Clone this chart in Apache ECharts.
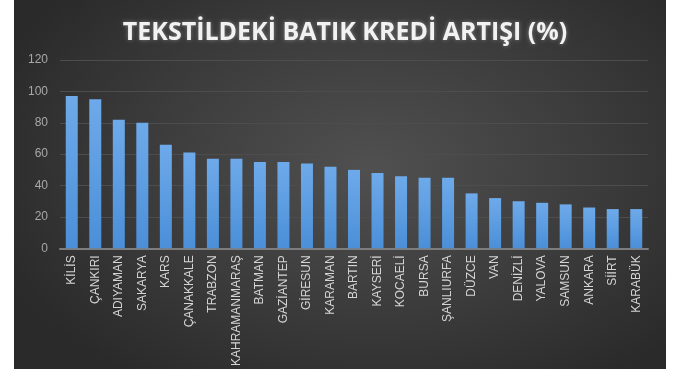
<!DOCTYPE html>
<html>
<head>
<meta charset="utf-8">
<script src="https://cdn.jsdelivr.net/npm/echarts@6/dist/echarts.min.js"></script>
<style>
html,body{margin:0;padding:0;background:#fff;}
#chart{width:675px;height:369px;
background:
 linear-gradient(to right,#fff 0,#fff 14px,transparent 14px,transparent 666px,#fff 666px,#fff 675px),
 radial-gradient(ellipse 60% 70% at 55% 45%,#505050 0%,#3c3c3c 55%,#2a2a2a 100%);}
</style>
</head>
<body>
<div id="chart"></div>
<script>
const titleText = 'TEKSTİLDEKİ BATIK KREDİ ARTIŞI (%)';
const categories = ['KİLİS','ÇANKIRI','ADIYAMAN','SAKARYA','KARS','ÇANAKKALE','TRABZON','KAHRAMANMARAŞ','BATMAN','GAZİANTEP','GİRESUN','KARAMAN','BARTIN','KAYSERİ','KOCAELİ','BURSA','ŞANLIURFA','DÜZCE','VAN','DENİZLİ','YALOVA','SAMSUN','ANKARA','SİİRT','KARABÜK'];
const values = [97,95,82,80,66,61,57,57,55,55,54,52,50,48,46,45,45,35,32,30,29,28,26,25,25];
const yTicks = {min:0,max:120,interval:20};

const chart = echarts.init(document.getElementById('chart'), null, {renderer:'canvas'});
chart.setOption({
  backgroundColor:'transparent',
  animation:false,
  title:{
    text:titleText,
    left:340, top:15, textAlign:'center',
    textStyle:{color:'#f2f2f2',fontFamily:'Open Sans',fontWeight:'bold',fontSize:25,
      textShadowColor:'rgba(255,255,255,0.35)',textShadowBlur:4}
  },
  grid:{left:60,right:27,top:60,bottom:118,containLabel:false},
  xAxis:{
    type:'category',
    data:categories,
    axisLine:{lineStyle:{color:'#7d7d7d',width:2}},
    axisTick:{show:false},
    axisLabel:{rotate:90,interval:0,color:'#d4d4d4',fontSize:12,fontFamily:'Liberation Sans',margin:7}
  },
  yAxis:{
    type:'value',
    min:yTicks.min,max:yTicks.max,interval:yTicks.interval,
    axisLine:{show:false},
    axisTick:{show:false},
    axisLabel:{color:'#a8a8a8',fontSize:12,fontFamily:'Liberation Sans',margin:12},
    splitLine:{lineStyle:{color:'#4d4d4d',width:1}}
  },
  series:[{
    type:'bar',
    data:values,
    barWidth:12,
    itemStyle:{
      color:new echarts.graphic.LinearGradient(0,0,0,1,[
        {offset:0,color:'#6eaaea'},
        {offset:1,color:'#4b8fd8'}
      ])
    }
  }]
});
</script>
</body>
</html>
